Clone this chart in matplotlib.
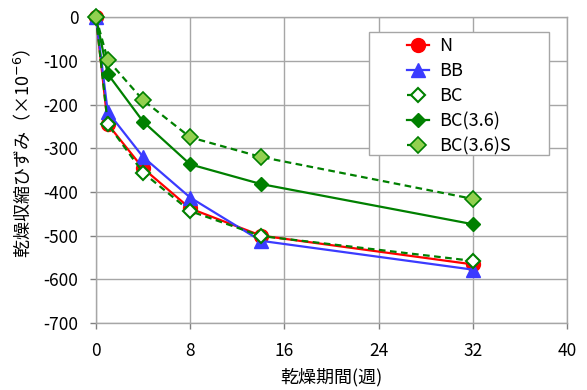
import matplotlib
matplotlib.use("Agg")
import matplotlib.pyplot as plt
from matplotlib.patches import Rectangle

plt.rcParams['font.family'] = ['Noto Sans CJK JP', 'DejaVu Sans']
plt.rcParams['mathtext.fontset'] = 'dejavusans'

weeks = [0, 1, 4, 8, 14, 32]
series_names = ["N", "BB", "BC", "BC(3.6)", "BC(3.6)S"]
n_vals = [0, -245, -346, -438, -500, -566]
bb_vals = [0, -217, -320, -413, -512, -578]
bc_vals = [0, -245, -356, -444, -501, -558]
bc36_vals = [0, -130, -239, -337, -382, -474]
bc36s_vals = [0, -98, -190, -275, -320, -416]

x_ticks = [0, 8, 16, 24, 32, 40]
y_ticks = [0, -100, -200, -300, -400, -500, -600, -700]

fig = plt.figure(figsize=(5.87, 3.90), dpi=100)
ax = fig.add_axes([0.1635, 0.172, 0.8025, 0.784])

styles = [
    dict(color="#FF0000", ls="-", marker="o", mfc="#FF0000", mec="#FF0000", ms=10, lw=1.6),
    dict(color="#3B3BFF", ls="-", marker="^", mfc="#3B3BFF", mec="#3B3BFF", ms=10, lw=1.6),
    dict(color="#008000", ls=(0, (3, 2)), marker="D", mfc="white", mec="#008000", ms=7, lw=1.6, mew=1.5),
    dict(color="#008000", ls="-", marker="D", mfc="#008000", mec="#008000", ms=7, lw=1.6),
    dict(color="#008000", ls=(0, (3, 2)), marker="D", mfc="#92D050", mec="#008000", ms=8.5, lw=1.6, mew=1.2),
]
all_vals = [n_vals, bb_vals, bc_vals, bc36_vals, bc36s_vals]
for name, vals, st in zip(series_names, all_vals, styles):
    ax.plot(weeks, vals, label=name, clip_on=False, zorder=3, **st)

ax.set_xlim(0, 40)
ax.set_ylim(-700, 0)
ax.set_xticks(x_ticks)
ax.set_yticks(y_ticks)
ax.set_yticklabels([str(v) for v in y_ticks])
ax.grid(True, color="#A6A6A6", lw=1.0)
ax.set_axisbelow(True)
for sp in ax.spines.values():
    sp.set_color("#A6A6A6")
    sp.set_linewidth(1.0)
ax.tick_params(axis="both", colors="#808080", labelcolor="black", labelsize=12.5, length=4.5, width=1.0)
ax.tick_params(axis="x", pad=9)
ax.tick_params(axis="y", pad=8)

ax.set_xlabel("乾燥期間(週)", fontsize=13, labelpad=6)
ax.set_ylabel("乾燥収縮ひずみ（×10$^{-6}$）", fontsize=13)
ax.yaxis.set_label_coords(-0.134, 0.554)

# legend box
ax.add_patch(Rectangle((0.5796, 0.549), 0.382, 0.402, transform=ax.transAxes,
                       facecolor="white", edgecolor="#A6A6A6", lw=1.0, zorder=4))
leg = ax.legend(loc="upper left", bbox_to_anchor=(0.6603, 0.934), fontsize=13,
                frameon=False, handlelength=1.2, borderpad=0, labelspacing=0.38,
                handletextpad=0.6, borderaxespad=0)
leg.set_zorder(5)

fig.savefig("out.png", dpi=100)
